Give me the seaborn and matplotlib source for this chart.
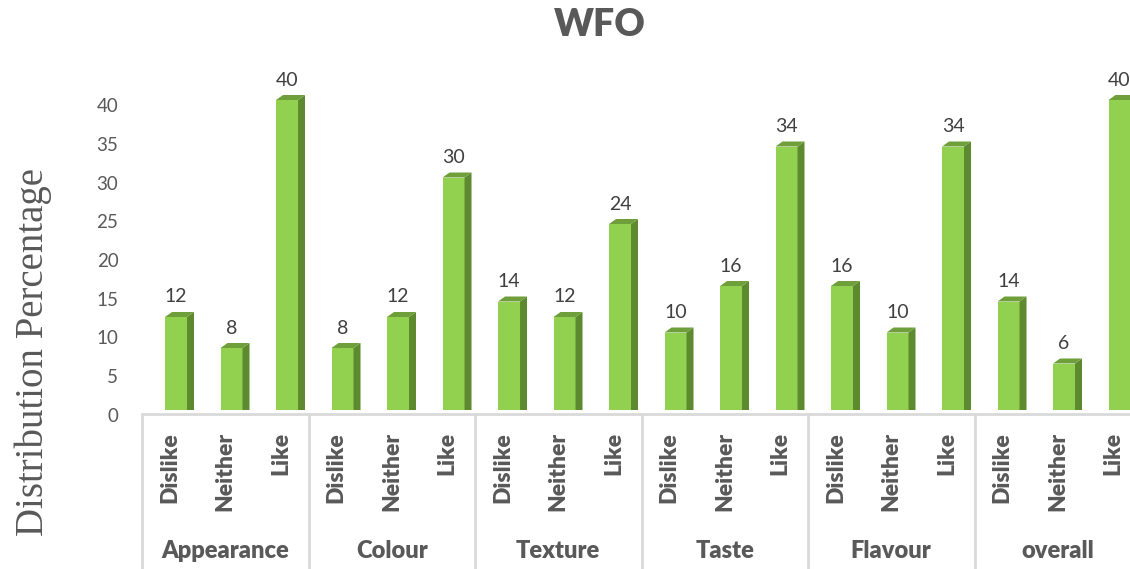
import matplotlib
matplotlib.use("Agg")
import matplotlib.pyplot as plt
import numpy as np
import pandas as pd
import seaborn as sns
from matplotlib.patches import Polygon
from matplotlib import transforms

# Sensory attributes and response levels
attributes = ["Appearance", "Colour", "Texture", "Taste", "Flavour", "overall"]
responses = ["Dislike", "Neither", "Like"]

# Distribution percentage per attribute (Dislike, Neither, Like)
appearance = [12, 8, 40]
colour = [8, 12, 30]
texture = [14, 12, 24]
taste = [10, 16, 34]
flavour = [16, 10, 34]
overall = [14, 6, 40]

y_ticks = [0, 5, 10, 15, 20, 25, 30, 35, 40]

series = [appearance, colour, texture, taste, flavour, overall]
rows = []
for attr, vals in zip(attributes, series):
    for resp, v in zip(responses, vals):
        rows.append({"slot": f"{attr}|{resp}", "attribute": attr,
                     "response": resp, "pct": v})
df = pd.DataFrame(rows)
slots = list(df["slot"])

FRONT = "#92D050"
SIDE = "#5E8A2F"
TOP = "#6F9F3A"
TEXT = "#595959"
LINE = "#D9D9D9"

sns.set_theme(style="white")
plt.rcParams["font.family"] = ["Lato", "DejaVu Sans"]

W, H = 1130, 569
fig = plt.figure(figsize=(W / 100, H / 100), dpi=100)

px_per_unit = 7.75
ymax = 42
ax_h_px = ymax * px_per_unit
ax = fig.add_axes([142 / W, (H - 410) / H, 999 / W, ax_h_px / H])

sns.barplot(data=df, x="slot", y="pct", order=slots, color=FRONT,
            saturation=1, width=0.396, errorbar=None, ax=ax, zorder=3)
ax.set_xlim(-0.5, 17.5)
ax.set_ylim(0, ymax)

# pseudo-3D column: shift the front face, then add side and top faces
shift = 0.113
dx = 7 / 55.5
dy = 5 / px_per_unit
for p in ax.patches:
    p.set_x(p.get_x() + shift)
    p.set_edgecolor("none")
    xl = p.get_x()
    xr = xl + p.get_width()
    h = p.get_height()
    side = Polygon([(xr, 0), (xr, h), (xr + dx, h + dy), (xr + dx, 0)],
                   closed=True, facecolor=SIDE, edgecolor="none", zorder=3,
                   clip_on=False)
    top = Polygon([(xl, h), (xr, h), (xr + dx, h + dy), (xl + dx, h + dy)],
                  closed=True, facecolor=TOP, edgecolor="none", zorder=3,
                  clip_on=False)
    ax.add_patch(side)
    ax.add_patch(top)

# value labels
for p, v in zip(ax.patches[:len(slots)], df["pct"]):
    ax.annotate(f"{v:g}", (p.get_x() + p.get_width() / 2, v),
                xytext=(0, 14.4), textcoords="offset points",
                ha="center", va="center", fontsize=14, color="#404040",
                annotation_clip=False)

for s in ax.spines.values():
    s.set_visible(False)
ax.set_xlabel("")
ax.set_ylabel("")
ax.set_xticks([])
ax.set_yticks(y_ticks)
ax.tick_params(axis="y", length=0, pad=17, labelsize=13.5, labelcolor=TEXT)
offset = transforms.ScaledTranslation(0, -5 / 100, fig.dpi_scale_trans)
for lbl in ax.get_yticklabels():
    lbl.set_transform(lbl.get_transform() + offset)

# multi-level category axis
tr = ax.get_xaxis_transform()
y_line = -4 / ax_h_px
y_bottom = -(H - 410 + 5) / ax_h_px
ax.plot([-0.5, 17.5], [y_line, y_line], color=LINE, lw=2,
        transform=tr, clip_on=False)
for k in range(len(attributes)):
    xb = -0.5 + 3 * k
    ax.plot([xb, xb], [y_line, y_bottom], color=LINE, lw=2,
            transform=tr, clip_on=False)

for i, resp in enumerate(df["response"]):
    ax.text(i, -22 / ax_h_px, resp, rotation=90, ha="center", va="top",
            fontsize=16.5, fontweight="heavy", color=TEXT, transform=tr)
for k, attr in enumerate(attributes):
    ax.text(3 * k + 1, -141 / ax_h_px, attr, ha="center", va="center",
            fontsize=17, fontweight="heavy", color=TEXT, transform=tr)

fig.text(600 / W, 1 - 25 / H, "WFO", ha="center", va="center",
         fontsize=27, fontweight="heavy", color=TEXT)
fig.text(33 / W, 1 - 352 / H, "Distribution Percentage", rotation=90,
         ha="center", va="center", fontsize=28, color=TEXT,
         family=["Liberation Serif", "DejaVu Serif"])

fig.savefig("out.png", dpi=100)
